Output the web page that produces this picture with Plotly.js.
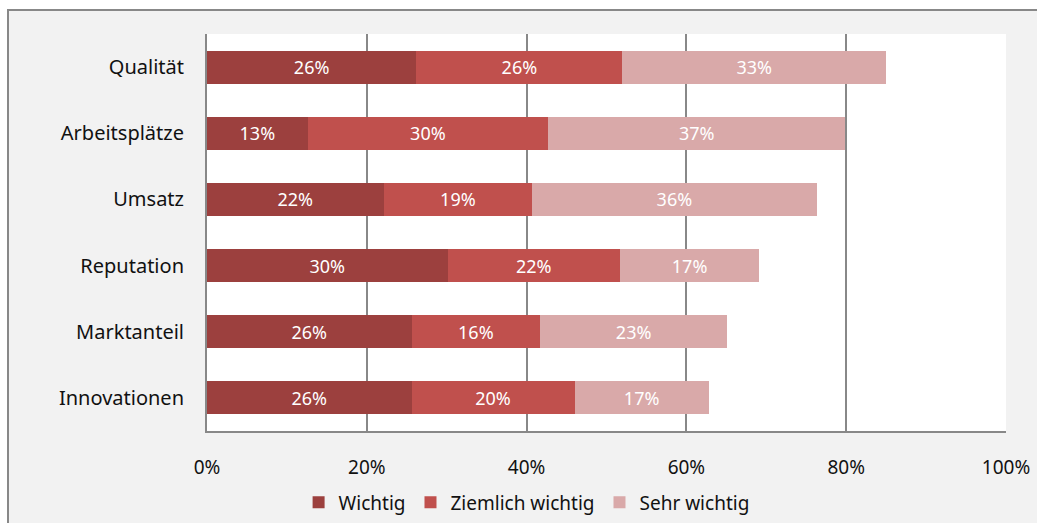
<!DOCTYPE html>
<html>
<head>
<meta charset="utf-8">
<script src="https://cdn.plot.ly/plotly-3.0.1.min.js"></script>
<style>
  html, body { margin: 0; padding: 0; background: #ffffff; width: 1037px; height: 523px; overflow: hidden; }
  #frame { position: absolute; left: 7px; top: 9px; width: 1040px; height: 520px; background: #f2f2f2; border-left: 2px solid #888888; border-top: 2px solid #888888; }
  #chart { position: absolute; left: 0; top: 0; width: 1037px; height: 523px; }
</style>
</head>
<body>
<div id="frame"></div>
<div id="chart"></div>
<script>
const categories = ["Qualität", "Arbeitsplätze", "Umsatz", "Reputation", "Marktanteil", "Innovationen"];
const wichtig   = [26.2, 12.6, 22.1, 30.1, 25.6, 25.6];
const ziemlich  = [25.8, 30.1, 18.6, 21.6, 16.1, 20.4];
const sehr      = [33.0, 37.2, 35.6, 17.4, 23.4, 16.8];
const seriesNames = ["Wichtig", "Ziemlich wichtig", "Sehr wichtig"];
const xTicks = [0, 20, 40, 60, 80, 100];
const xTickLabels = ["0%", "20%", "40%", "60%", "80%", "100%"];

const colors = ["#9c403e", "#c0504d", "#d9a9a9"];
const fontFam = "Noto Sans, Open Sans, sans-serif";
const textCol = "#111111";

const traces = [wichtig, ziemlich, sehr].map((vals, i) => ({
  type: "bar",
  orientation: "h",
  name: seriesNames[i],
  y: categories,
  x: vals,
  marker: { color: colors[i], line: { width: 0 } },
  texttemplate: "%{x:.0f}%",
  textposition: "inside",
  insidetextanchor: "middle",
  textangle: 0,
  constraintext: "none",
  textfont: { color: "#ffffff", size: 18, family: fontFam },
  hoverinfo: "skip"
}));

const layout = {
  width: 1037, height: 523,
  paper_bgcolor: "rgba(0,0,0,0)",
  plot_bgcolor: "#ffffff",
  barmode: "stack",
  bargap: 0.5,
  margin: { l: 207, r: 31, t: 34, b: 92, pad: 0, autoexpand: false },
  font: { family: fontFam, size: 19, color: textCol },
  xaxis: {
    range: [0, 100],
    tickvals: xTicks,
    ticktext: xTickLabels,
    showgrid: true, gridcolor: "#888888", gridwidth: 2,
    showline: true, linecolor: "#888888", linewidth: 2,
    zeroline: false,
    ticks: "", ticklabelstandoff: 18,
    tickfont: { size: 19, family: fontFam, color: textCol },
    fixedrange: true
  },
  yaxis: {
    type: "category",
    categoryorder: "array",
    categoryarray: categories,
    autorange: "reversed",
    showgrid: false,
    showline: true, linecolor: "#888888", linewidth: 2,
    zeroline: false,
    ticks: "", ticklabelstandoff: 17,
    tickfont: { size: 20, family: fontFam, color: textCol },
    fixedrange: true
  },
  showlegend: true,
  legend: {
    orientation: "h",
    x: 0.40, xanchor: "center",
    y: -0.18, yanchor: "middle",
    font: { size: 19, family: fontFam, color: textCol },
    bgcolor: "rgba(0,0,0,0)",
    traceorder: "normal",
    itemwidth: 30
  }
};

Plotly.newPlot("chart", traces, layout, { displayModeBar: false, staticPlot: true });
</script>
</body>
</html>
